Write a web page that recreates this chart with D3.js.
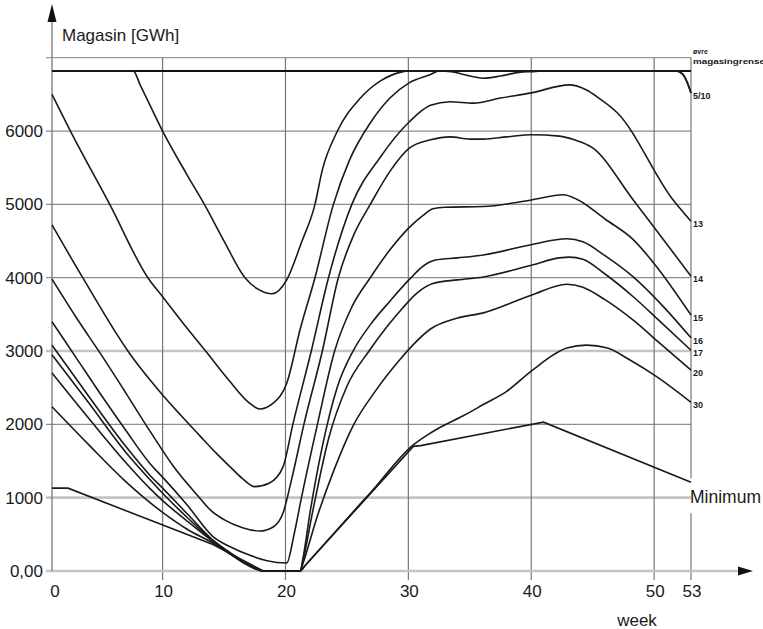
<!DOCTYPE html>
<html>
<head>
<meta charset="utf-8">
<script src="https://cdn.jsdelivr.net/npm/d3@7"></script>
<style>
  body { margin: 0; background: #fff; }
  svg { display: block; font-family: "Liberation Sans", Arial, sans-serif; }
</style>
</head>
<body>
<svg id="chart" width="763" height="629"></svg>
<script>
// reservoir curves, [week, GWh]
var curve5 = [[1,6820],[7.6,6820],[8.2,6620],[10,6000],[12,5400],[13.4,5000],[15,4500],[16.7,4000],[17.8,3840],[18.9,3780],[20.1,3970],[21.3,4480],[22.4,5000],[23,5470],[24.2,5990],[26.1,6450],[27.7,6680],[29.3,6800],[30.2,6820],[51.8,6820],[52.3,6780],[52.7,6660],[53,6520]];
var curve10 = [[1,6500],[2.5,6000],[5.7,5000],[8.8,4000],[10,3740],[11.8,3350],[13.5,3000],[15.4,2600],[17,2300],[17.9,2210],[19,2290],[20.1,2560],[21.2,3300],[22.4,4000],[23.9,5000],[25.2,5600],[26.9,6110],[28.5,6450],[30.1,6660],[31.8,6770],[32.5,6820],[33.5,6810],[34.5,6770],[36.1,6720],[37.5,6750],[39,6800],[40,6810],[41.3,6820],[51.8,6820],[52.3,6780],[52.7,6660],[53,6520]];
var curve13 = [[1,4720],[3.5,4000],[7.3,2970],[9,2600],[10,2400],[11.5,2120],[13,1850],[14.4,1600],[15.5,1420],[16.5,1260],[17.5,1150],[18.7,1200],[19.8,1420],[20.6,2000],[22.1,3000],[23.5,4000],[25.4,5000],[27.7,5640],[30.1,6130],[31.8,6350],[33.4,6400],[35.3,6380],[37.5,6450],[40,6520],[43.1,6630],[44.5,6560],[45.5,6450],[47,6250],[51.5,5070],[53,4770]];
var curve14 = [[1,3980],[3,3450],[5,2950],[7,2430],[9,1900],[11,1400],[13,1000],[13.9,830],[15,700],[16.5,590],[17.9,545],[19,600],[19.8,790],[20.5,1250],[21.5,2000],[23,3000],[24.3,4000],[25.6,4600],[26.9,5000],[28.5,5450],[30.1,5770],[31.8,5880],[33.4,5920],[35,5890],[36.1,5890],[38,5920],[40,5950],[42.3,5930],[43.5,5880],[45,5770],[48.3,5060],[53,4020]];
var curve15 = [[1,3400],[3,2900],[5,2400],[7,1920],[9,1460],[10,1280],[12,900],[14.1,470],[15.5,330],[17,220],[18.5,140],[20.1,110],[20.7,500],[21.3,1000],[22.6,2000],[24,3000],[25.4,3600],[26.9,4000],[28.5,4380],[30.1,4690],[31.2,4850],[32,4940],[33,4960],[36.1,4970],[40,5060],[42.6,5130],[43.7,5070],[46,4800],[48.3,4520],[50.2,4150],[53,3490]];
var curve16 = [[1,3080],[4,2380],[7,1700],[9,1300],[10,1130],[12,780],[14.1,420],[15.5,250],[17,90],[18.2,0],[21.2,0],[21.4,150],[22,800],[23,1700],[24.2,2500],[25.5,3000],[27,3380],[28.5,3680],[30.1,3980],[31.3,4170],[32.2,4240],[34,4270],[36.1,4310],[40,4450],[42.9,4530],[44.2,4490],[46,4300],[48.3,4010],[50.5,3650],[53,3180]];
var curve17 = [[1,2950],[4,2290],[7,1620],[9,1240],[10,1060],[12,730],[14.1,410],[15.5,240],[17,80],[18.3,0],[21.2,0],[21.4,120],[22.2,800],[23.5,1800],[25,2520],[26.8,3000],[28.3,3340],[29.5,3580],[30.7,3790],[32,3920],[34,3970],[36.1,4010],[40,4170],[42.3,4270],[43.1,4280],[44.2,4250],[46,4050],[48.3,3740],[50.5,3400],[53,3010]];
var curve20 = [[1,2700],[4,2080],[7,1480],[9,1120],[10,960],[12,680],[14.1,400],[15.5,230],[17,70],[18.2,0],[21.2,0],[21.4,90],[22.5,700],[24,1400],[25.5,1980],[27.3,2450],[29.3,2880],[30.3,3070],[31.8,3300],[34,3450],[36.1,3520],[40,3760],[42.9,3910],[44.2,3870],[46,3700],[48.3,3420],[50.5,3100],[53,2740]];
var curve30 = [[1,2240],[4,1720],[7,1220],[10,800],[12,570],[14.1,380],[15.5,230],[17,80],[18.2,0],[21.2,0],[21.6,75],[24,525],[27,1085],[30.4,1720],[31.5,1850],[32.6,1960],[34.5,2120],[36.1,2270],[38,2450],[40.1,2740],[42.9,3040],[44.5,3080],[46.2,3040],[48,2880],[50.2,2650],[53,2300]];
var curveMin = [[1,1130],[2.3,1130],[14.1,360],[18.2,0],[21.2,0],[30.4,1700],[31,1710],[41,2030],[53,1210]];

var endLabels = ["5/10","13","14","15","16","17","20","30"];
var yTicks = [0,1000,2000,3000,4000,5000,6000];
var yTickLabels = ["0,00","1000","2000","3000","4000","5000","6000"];
var xTicks = [1,10,20,30,40,50,53];
var xTickLabels = ["0","10","20","30","40","50","53"];
var upperLimit = 6820;
var frameTop = 7000;

var svg = d3.select("#chart");

var x = d3.scaleLinear().domain([1,53]).range([52,691]);
var y = d3.scaleLinear().domain([0,frameTop]).range([571,57.7]);

var lightGrid = [0,1000,3000];

// horizontal grid
svg.append("g").selectAll("line")
  .data(yTicks.slice(1))
  .enter().append("line")
    .attr("x1", 46).attr("x2", x(53))
    .attr("y1", d => y(d)).attr("y2", d => y(d))
    .attr("stroke", d => lightGrid.indexOf(d) >= 0 ? "#c4c4c4" : "#8c8c8c")
    .attr("stroke-width", d => lightGrid.indexOf(d) >= 0 ? 2.6 : 1.3);

// frame top
svg.append("line")
  .attr("x1", 46).attr("x2", x(53))
  .attr("y1", y(frameTop)).attr("y2", y(frameTop))
  .attr("stroke", "#999").attr("stroke-width", 1.2);

// vertical grid
svg.append("g").selectAll("line")
  .data(xTicks.slice(1, -1))
  .enter().append("line")
    .attr("x1", d => x(d)).attr("x2", d => x(d))
    .attr("y1", y(frameTop)).attr("y2", 580)
    .attr("stroke", "#777").attr("stroke-width", 1.2);

// right border, broken by the Minimum label
var minEnd = curveMin[curveMin.length - 1][1];
svg.append("line")
  .attr("x1", x(53)).attr("x2", x(53))
  .attr("y1", y(frameTop)).attr("y2", y(minEnd) - 4)
  .attr("stroke", "#777").attr("stroke-width", 1.2);
svg.append("line")
  .attr("x1", x(53)).attr("x2", x(53))
  .attr("y1", y(minEnd) + 31).attr("y2", 580)
  .attr("stroke", "#777").attr("stroke-width", 1.2);

// x axis
svg.append("line")
  .attr("x1", 46).attr("x2", 740)
  .attr("y1", y(0)).attr("y2", y(0))
  .attr("stroke", "#c4c4c4").attr("stroke-width", 2.6);
svg.append("path")
  .attr("d", "M738," + (y(0) - 4.5) + "L753," + y(0) + "L738," + (y(0) + 4.5) + "Z")
  .attr("fill", "#111");

// y axis
svg.append("line")
  .attr("x1", x(1)).attr("x2", x(1))
  .attr("y1", y(0)).attr("y2", 18)
  .attr("stroke", "#777").attr("stroke-width", 1.3);
svg.append("path")
  .attr("d", "M" + (x(1) - 4.5) + ",22L" + x(1) + ",4L" + (x(1) + 4.5) + ",22Z")
  .attr("fill", "#111");

// upper reservoir limit
svg.append("line")
  .attr("x1", x(1)).attr("x2", x(53))
  .attr("y1", y(upperLimit)).attr("y2", y(upperLimit))
  .attr("stroke", "#111").attr("stroke-width", 2);

// tick labels
svg.append("g").selectAll("text")
  .data(yTicks)
  .enter().append("text")
    .attr("x", 43).attr("y", d => y(d))
    .attr("dy", "0.35em")
    .attr("text-anchor", "end")
    .attr("font-size", 17)
    .attr("fill", "#1a1a1a")
    .text((d, i) => yTickLabels[i]);

svg.append("g").selectAll("text")
  .data(xTicks)
  .enter().append("text")
    .attr("x", d => x(d) + (d == 1 ? 3 : 1)).attr("y", 597)
    .attr("text-anchor", "middle")
    .attr("font-size", 17)
    .attr("fill", "#1a1a1a")
    .text((d, i) => xTickLabels[i]);

svg.append("text")
  .attr("x", 637).attr("y", 626)
  .attr("text-anchor", "middle")
  .attr("font-size", 17)
  .attr("fill", "#1a1a1a")
  .text("week");

svg.append("text")
  .attr("x", 62).attr("y", 41)
  .attr("font-size", 17)
  .attr("fill", "#1a1a1a")
  .text("Magasin [GWh]");

// curves
var line = d3.line()
  .x(d => x(d[0]))
  .y(d => y(d[1]))
  .curve(d3.curveMonotoneX);

var smoothCurves = [curve5, curve10, curve13, curve14, curve15, curve16, curve17, curve20, curve30];
svg.append("g").selectAll("path")
  .data(smoothCurves)
  .enter().append("path")
    .attr("d", line)
    .attr("fill", "none")
    .attr("stroke", "#1a1a1a")
    .attr("stroke-width", 1.6);

svg.append("path")
  .attr("d", d3.line().x(d => x(d[0])).y(d => y(d[1]))(curveMin))
  .attr("fill", "none")
  .attr("stroke", "#1a1a1a")
  .attr("stroke-width", 1.6);

// end labels
var labelled = [curve10, curve13, curve14, curve15, curve16, curve17, curve20, curve30];
svg.append("g").selectAll("text")
  .data(labelled)
  .enter().append("text")
    .attr("x", x(53) + 2)
    .attr("y", d => y(d[d.length - 1][1]) + 3)
    .attr("dy", "0.35em")
    .attr("font-size", 9)
    .attr("font-weight", "bold")
    .attr("fill", "#1a1a1a")
    .text((d, i) => endLabels[i]);

svg.append("text")
  .attr("x", x(53) + 2).attr("y", 54)
  .attr("font-size", 7).attr("font-weight", "bold")
  .attr("fill", "#1a1a1a")
  .text("øvre");
svg.append("text")
  .attr("x", x(53) + 2).attr("y", 64)
  .attr("font-size", 7).attr("font-weight", "bold")
  .attr("textLength", 72).attr("lengthAdjust", "spacingAndGlyphs")
  .attr("fill", "#1a1a1a")
  .text("magasingrense");

svg.append("text")
  .attr("x", x(53) - 1).attr("y", y(minEnd) + 15)
  .attr("dy", "0.35em")
  .attr("font-size", 17.5)
  .attr("fill", "#1a1a1a")
  .text("Minimum");
</script>
</body>
</html>
